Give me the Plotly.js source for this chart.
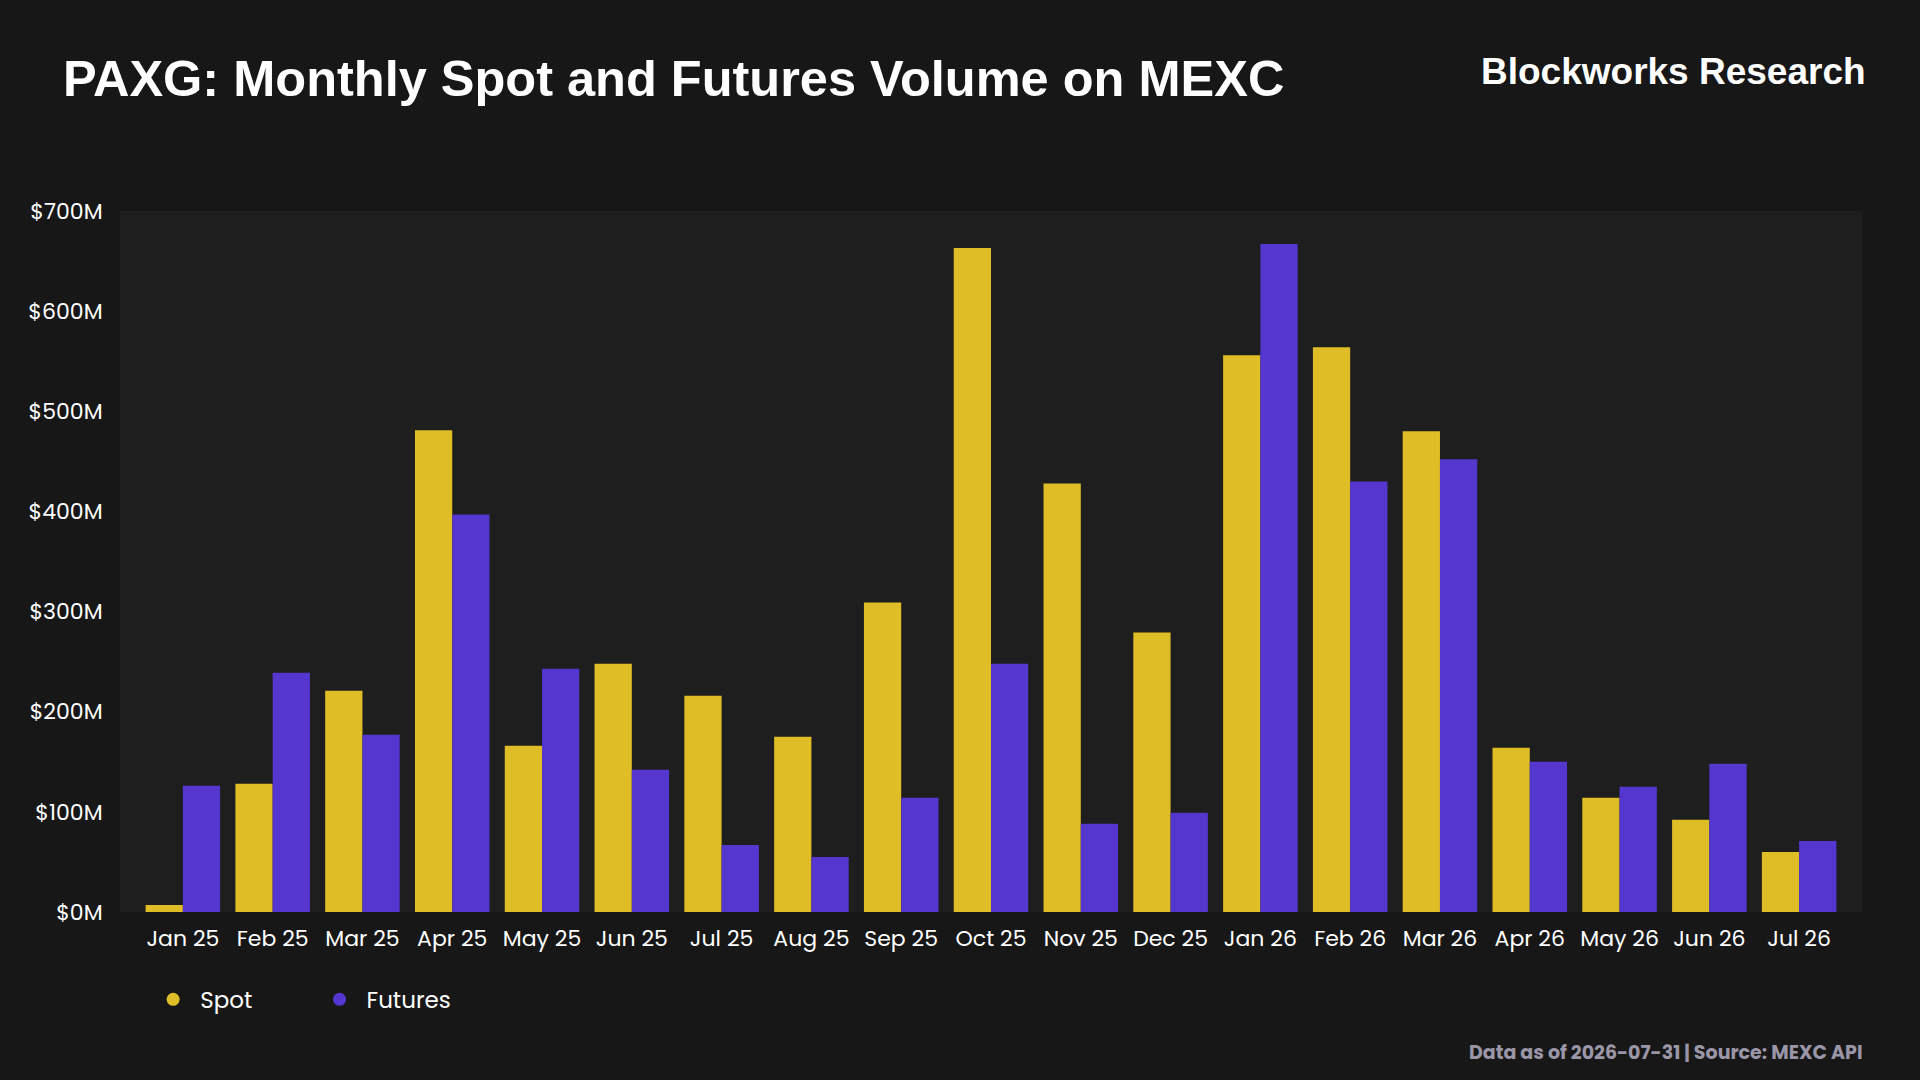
<!DOCTYPE html>
<html>
<head>
<meta charset="utf-8">
<script src="https://cdn.plot.ly/plotly-3.0.1.min.js"></script>
<style>html,body{margin:0;padding:0;background:#171717;}</style>
</head>
<body>
<div id="plot" style="width:1920px;height:1080px;"></div>
<script>
var months = ["Jan 25","Feb 25","Mar 25","Apr 25","May 25","Jun 25","Jul 25","Aug 25","Sep 25","Oct 25","Nov 25","Dec 25","Jan 26","Feb 26","Mar 26","Apr 26","May 26","Jun 26","Jul 26"];
var spot = [7,128,221,481,166,248,216,175,309,663,428,279,556,564,480,164,114,92,60];
var futures = [126,239,177,397,243,142,67,55,114,248,88,99,667,430,452,150,125,148,71];
var tickVals = [0,100,200,300,400,500,600,700];
var tickText = tickVals.map(function (v) { return "$" + v + "M"; });

var font = "Poppins, 'Open Sans', sans-serif";
var gold = "#dfbd26", purple = "#5537d0";

var data = [
    {x: months, y: spot, name: "Spot", type: "bar", marker: {color: gold}, showlegend: false},
    {x: months, y: futures, name: "Futures", type: "bar", marker: {color: purple}, showlegend: false},
    // legend entries with round markers
    {x: [null], y: [null], name: "Spot&nbsp;&nbsp;&nbsp;&nbsp;&nbsp;&nbsp;&nbsp;&nbsp;&nbsp;", type: "scatter", mode: "markers",
     marker: {color: gold, size: 13, symbol: "circle"}},
    {x: [null], y: [null], name: "Futures", type: "scatter", mode: "markers",
     marker: {color: purple, size: 13, symbol: "circle"}}
];

var layout = {
    width: 1920, height: 1080,
    paper_bgcolor: "#171717",
    plot_bgcolor: "#1e1e1e",
    margin: {l: 120, r: 58, t: 211, b: 168},
    barmode: "group",
    bargap: 0.17,
    bargroupgap: 0,
    font: {family: font, color: "#ffffff", size: 22},
    xaxis: {type: "category", range: [-0.7, 18.7], showgrid: false, zeroline: false, showline: false,
            tickfont: {size: 22, color: "#ffffff"}, ticks: "outside", ticklen: 7, tickcolor: "rgba(0,0,0,0)"},
    yaxis: {range: [0, 700], tickvals: tickVals, ticktext: tickText, showgrid: false, zeroline: false,
            tickfont: {size: 22, color: "#ffffff"}, ticks: "outside", ticklen: 12, tickcolor: "rgba(0,0,0,0)"},
    showlegend: true,
    legend: {orientation: "h", x: 0.015, y: -0.094, xanchor: "left", yanchor: "top",
             font: {size: 23, color: "#ffffff"}, itemwidth: 44, traceorder: "normal"},
    annotations: [
        {text: "<b>PAXG: Monthly Spot and Futures Volume on MEXC</b>", xref: "paper", yref: "paper",
         x: -0.034, y: 1.189, xanchor: "left", yanchor: "middle", showarrow: false,
         font: {family: "'Liberation Sans', Arial, sans-serif", size: 50.5, color: "#ffffff"}},
        {text: "<b>Blockworks Research</b>", xref: "paper", yref: "paper",
         x: 1.0035, y: 1.199, xanchor: "right", yanchor: "middle", showarrow: false,
         font: {family: "'Liberation Sans', Arial, sans-serif", size: 37, color: "#ffffff"}},
        {text: "<b>Data as of 2026-07-31 | Source: MEXC API</b>", xref: "paper", yref: "paper",
         x: 1.002, y: -0.2, xanchor: "right", yanchor: "middle", showarrow: false,
         font: {family: font, size: 19, color: "#9a96a8"}}
    ]
};

Plotly.newPlot("plot", data, layout, {displayModeBar: false, staticPlot: true});
</script>
</body>
</html>
